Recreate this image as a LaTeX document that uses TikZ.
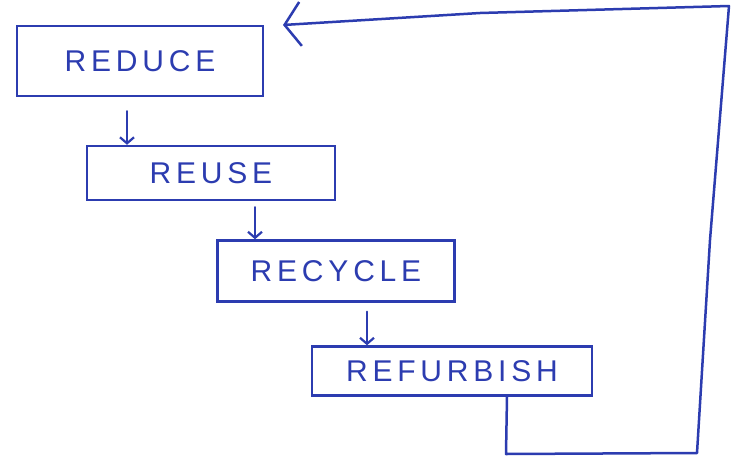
\documentclass[tikz,border=0pt]{standalone}
\usepackage{fontspec}
\setmainfont{Liberation Sans}
\usetikzlibrary{arrows.meta,calc}
\definecolor{ink}{RGB}{44,60,176}
\tikzset{
  stage/.style={draw=ink, line width=2.5pt, rectangle, inner sep=0pt,
    text=ink, font=\addfontfeatures{LetterSpace=16}\fontsize{30}{30}\selectfont},
  flow/.style={draw=ink, line width=2.4pt, line cap=round,
    -{Straight Barb[length=6pt,width=14pt,line width=2.2pt]}},
  loopback/.style={draw=ink, line width=2.5pt, line cap=round, line join=round,
    -{Straight Barb[length=16pt,width=44pt,line width=2.5pt]}}
}
\begin{document}
\begin{tikzpicture}[x=1pt,y=-1pt]
  \useasboundingbox (0,0) rectangle (734,469);
  \fill[white] (0,0) rectangle (734,469);

  % the four stages
  \node[stage, minimum width=246pt, minimum height=70pt] (reduce) at (140,61) {REDUCE};
  \node[stage, minimum width=248pt, minimum height=54pt] (reuse) at (211,173) {REUSE};
  \node[stage, minimum width=237pt, minimum height=61pt] (recycle) at (336,271) {RECYCLE};
  \node[stage, minimum width=280pt, minimum height=49pt] (refurbish) at (452,371) {REFURBISH};

  % short arrows from one stage down to the next
  \draw[flow] ($(reduce.south)+(-13,14)$) -- ($(reduce.south |- reuse.north)+(-13,0)$);
  \draw[flow] ($(reuse.south)+(44,6)$) -- ($(reuse.south |- recycle.north)+(44,0)$);
  \draw[flow] ($(recycle.south)+(31,9)$) -- ($(recycle.south |- refurbish.north)+(31,0)$);

  % feedback loop from REFURBISH back to REDUCE
  \coordinate (loopA) at (506,454);
  \coordinate (loopB) at (697,453);
  \coordinate (loopC) at (729,6);
  \coordinate (loopEnd) at (283,25);
  \draw[loopback] ($(refurbish.south)+(55,0)$) -- (loopA) -- (loopB)
     -- (710,240) -- (loopC) -- (480,13) -- (loopEnd);
\end{tikzpicture}
\end{document}
